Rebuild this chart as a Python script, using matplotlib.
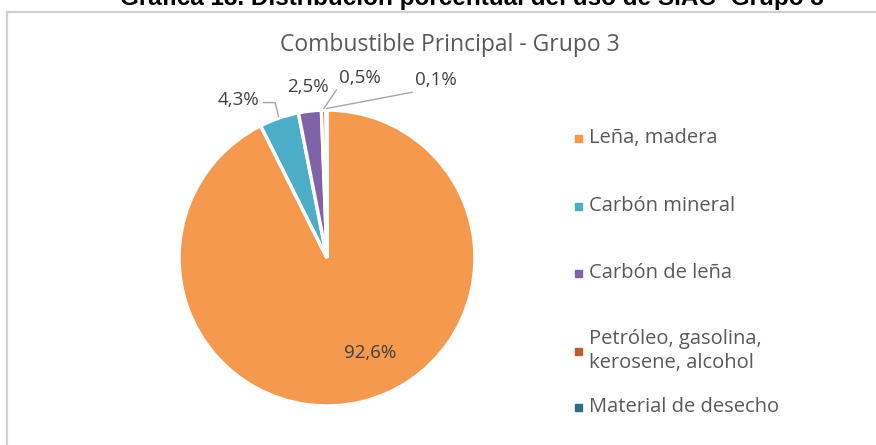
import numpy as np
import matplotlib; matplotlib.use('Agg')
import matplotlib.pyplot as plt
from matplotlib.lines import Line2D
from matplotlib.patches import Rectangle

FONT = 'Open Sans'
TXT = '#595959'

categorias = ['Leña, madera', 'Carbón mineral', 'Carbón de leña',
              'Petróleo, gasolina,\nkerosene, alcohol', 'Material de desecho']
valores = [92.6, 4.3, 2.5, 0.5, 0.1]
etiquetas = ['92,6%', '4,3%', '2,5%', '0,5%', '0,1%']
colores = ['#F4994E', '#4BADC7', '#8062A8', '#B5602B', '#2B6E80']

W, H = 876, 445
fig = plt.figure(figsize=(W/100, H/100), dpi=100)

# titulo cortado de la pagina
fig.text(472/W, 1 + 1/H, 'Gráfica 18. Distribución porcentual del uso de SIAC- Grupo 3',
         ha='center', va='center', fontsize=17.5, fontweight='bold',
         family='Liberation Sans', color='black')

# marco del grafico (solo arriba e izquierda visibles)
fig.add_artist(Line2D([7/W, 1], [1-12/H]*2, color='#D0D0D0', lw=1.6, transform=fig.transFigure))
fig.add_artist(Line2D([7/W]*2, [0, 1-12/H], color='#D0D0D0', lw=1.6, transform=fig.transFigure))

fig.text(450/W, 1 - 45/H, 'Combustible Principal - Grupo 3', ha='center', va='center',
         fontsize=16.5, family=FONT, color=TXT)

# pastel
cx, cy, r = 327, 258, 148
ax = fig.add_axes([(cx-r)/W, (H-cy-r)/H, 2*r/W, 2*r/H])
wedges, _ = ax.pie(valores, colors=colores, startangle=90, counterclock=False,
                   radius=1, wedgeprops=dict(edgecolor='white', linewidth=2.5))
ax.set_xlim(-1, 1); ax.set_ylim(-1, 1); ax.set_aspect('equal')
ax.axis('off')

# posiciones de las etiquetas (x, y en unidades del radio) y si llevan linea guia
lab_pos = [(0.29, -0.64), (-0.60, 1.07), (-0.13, 1.155), (0.223, 1.215), (0.736, 1.20)]
guia = [False, True, False, True, True]
for w, txt, (lx, ly), g in zip(wedges, etiquetas, lab_pos, guia):
    ang = np.deg2rad((w.theta1 + w.theta2) / 2)
    px, py = np.cos(ang), np.sin(ang)
    ax.text(lx, ly, txt, ha='center', va='center', fontsize=13.5, family=FONT,
            color='#404040', clip_on=False)
    if g:
        if lx < px:
            ex, ey = lx + 0.17, ly - 0.02
            ax.plot([ex, ex + 0.08, px*1.01], [ey, ey, py*1.01], color='#A6A6A6', lw=1, clip_on=False)
        else:
            ex, ey = lx - 0.16, ly - 0.08
            ax.plot([px*1.01, ex], [py*1.01, ey], color='#A6A6A6', lw=1, clip_on=False)

# leyenda
ley_y = [138, 206, 273, 351, 407]
for cat, col, y in zip(categorias, colores, ley_y):
    fig.add_artist(Rectangle((575/W, 1-(y+4)/H), 7/W, 7/H, color=col, transform=fig.transFigure))
    fig.text(589/W, 1-y/H, cat, ha='left', va='center', fontsize=14.5, family=FONT,
             color=TXT, linespacing=1.25)

plt.savefig('out.png', dpi=100, facecolor='white')
